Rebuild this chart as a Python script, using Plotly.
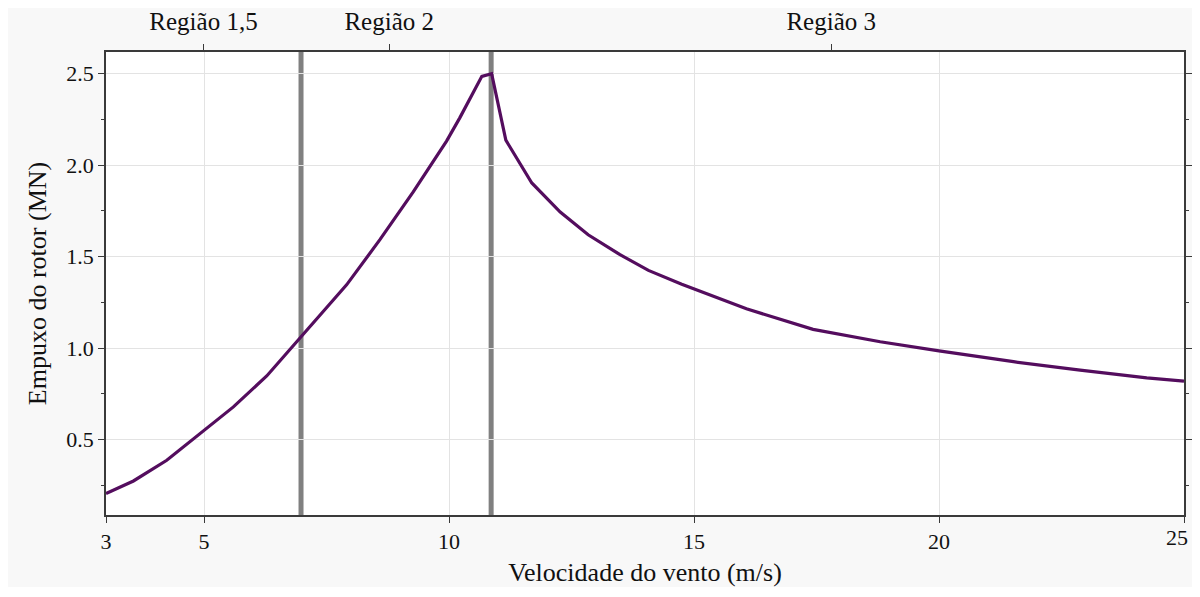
import plotly.graph_objects as go

# Data
wind_speed = [3.0, 3.56, 4.24, 5.0, 5.6, 6.28, 6.96, 7.2, 7.91, 8.59, 9.27, 9.95,
              10.22, 10.67, 10.87, 11.16, 11.69, 12.27, 12.84, 13.49, 14.07, 14.75,
              16.07, 17.43, 18.80, 20.0, 21.52, 22.88, 24.24, 25.0]
thrust_mn = [0.205, 0.274, 0.387, 0.548, 0.679, 0.848, 1.054, 1.127, 1.346, 1.593,
             1.854, 2.132, 2.259, 2.486, 2.500, 2.137, 1.903, 1.744, 1.620, 1.511,
             1.425, 1.350, 1.215, 1.103, 1.035, 0.985, 0.926, 0.880, 0.838, 0.820]

region_bounds = [6.98, 10.86]
region_tick_pos = [4.99, 8.78, 17.8]
region_labels = ["Região 1,5", "Região 2", "Região 3"]
x_ticks = [3, 5, 10, 15, 20, 25]
x_tick_text = ["3", "5", "10", "15", "20", ""]
last_x_tick = 25
y_ticks = [0.5, 1.0, 1.5, 2.0, 2.5]
y_minor = [0.25, 0.75, 1.25, 1.75, 2.25]

FONT = "Liberation Serif"
AX = "#3a3a3a"
GRID = "#e3e3e3"

W, H = 1192, 579
L, R, T, B = 98, 16, 44, 72
PW, PH = W - L - R, H - T - B

fig = go.Figure()

# figure face (light gray) and white axes face
fig.add_shape(type="rect", xref="paper", yref="paper",
              x0=-L / PW, x1=1 + (R - 8) / PW, y0=-B / PH - 0.01, y1=1 + T / PH + 0.01,
              fillcolor="#f8f8f8", line=dict(width=0), layer="below")
fig.add_shape(type="rect", xref="paper", yref="paper",
              x0=0, x1=1, y0=0, y1=1,
              fillcolor="white", line=dict(width=0), layer="below")

for xb in region_bounds:
    fig.add_vline(x=xb, line=dict(color="#808080", width=5), layer="below")

fig.add_trace(go.Scatter(x=wind_speed, y=thrust_mn, mode="lines",
                         line=dict(color="#540d5e", width=3.2), showlegend=False,
                         xaxis="x", yaxis="y"))
# invisible trace to activate top axis
fig.add_trace(go.Scatter(x=[wind_speed[0]], y=[thrust_mn[0]], mode="markers",
                         marker=dict(opacity=0), showlegend=False, hoverinfo="skip",
                         xaxis="x2", yaxis="y"))

# last bottom tick label drawn as annotation so it stays inside the page
fig.add_annotation(x=last_x_tick, xref="x", y=0, yref="paper", text=str(last_x_tick),
                   showarrow=False, xanchor="right", yanchor="top", xshift=6,
                   yshift=-8, font=dict(family=FONT, size=22, color="#111"))

fig.update_layout(
    width=W, height=H,
    margin=dict(l=L, r=R, t=T, b=B, autoexpand=False),
    paper_bgcolor="white", plot_bgcolor="white",
    font=dict(family=FONT, size=22, color="#111"),
    xaxis=dict(range=[3, 25], tickvals=x_ticks, ticktext=x_tick_text,
               ticks="outside", ticklen=6,
               tickcolor=AX, showline=True, linecolor=AX, linewidth=1.5,
               showgrid=True, gridcolor=GRID, gridwidth=1, zeroline=False,
               automargin=False, ticklabeloverflow="allow",
               title=dict(text="Velocidade do vento (m/s)", standoff=12,
                          font=dict(size=26)),
               tickfont=dict(size=22)),
    xaxis2=dict(range=[3, 25], overlaying="x", side="top", tickvals=region_tick_pos,
                ticktext=region_labels, ticks="outside", ticklen=6, tickcolor=AX,
                showline=True, linecolor=AX, linewidth=1.5, showgrid=False,
                zeroline=False, automargin=False, ticklabelstandoff=4,
                ticklabeloverflow="allow", tickfont=dict(size=25)),
    yaxis=dict(range=[0.088, 2.619], tickvals=y_ticks, tickformat=".1f",
               ticks="outside", ticklen=6, tickcolor=AX, showline=True,
               linecolor=AX, linewidth=1.5, mirror="ticks", showgrid=True,
               gridcolor=GRID, gridwidth=1, zeroline=False, automargin=False,
               ticklabeloverflow="allow",
               minor=dict(tickvals=y_minor, ticks="outside", ticklen=3.5,
                          tickcolor=AX, showgrid=False),
               title=dict(text="Empuxo do rotor (MN)", standoff=12,
                          font=dict(size=26)),
               tickfont=dict(size=22)),
)

fig.write_html("out.html")
